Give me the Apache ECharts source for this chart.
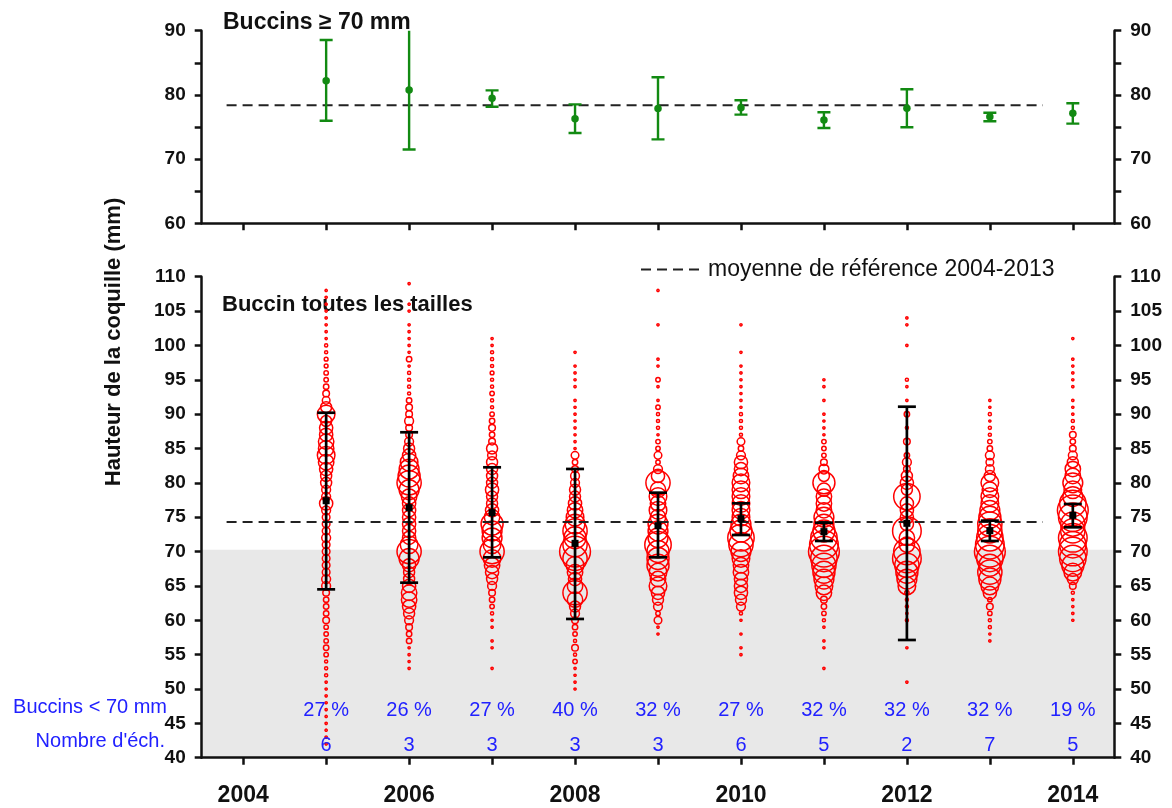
<!DOCTYPE html>
<html>
<head>
<meta charset="utf-8">
<script src="https://cdn.jsdelivr.net/npm/echarts@6/dist/echarts.min.js"></script>
<style>
html,body{margin:0;padding:0;background:#fff;}
#chart{width:1172px;height:808px;}
</style>
</head>
<body>
<div id="chart"></div>
<script>
// ---------- DATA ----------
const years = [2005, 2006, 2007, 2008, 2009, 2010, 2011, 2012, 2013, 2014];
const yearTicks = [2004, 2005, 2006, 2007, 2008, 2009, 2010, 2011, 2012, 2013, 2014];
const yearLabels = [2004, 2006, 2008, 2010, 2012, 2014];

// Top panel: Buccins >= 70 mm (mean, lower, upper)
const bigMean = [82.2, 80.76, 79.47, 76.3, 77.9, 78.0, 76.09, 77.91, 76.6, 77.13];
const bigLow  = [75.98, 71.5, 78.16, 74.07, 73.08, 76.92, 74.84, 74.95, 75.89, 75.52];
const bigHigh = [88.55, 91.0, 80.7, 78.53, 82.74, 79.16, 77.29, 80.87, 77.23, 78.69];
const bigRef = 78.4;

// Bottom panel: all sizes (mean, lower, upper)
const allMean = [77.4, 76.38, 75.66, 71.2, 73.77, 74.79, 72.9, 74.11, 73.04, 75.27];
const allLow  = [64.5, 65.47, 69.16, 60.19, 69.16, 72.41, 71.54, 57.13, 71.54, 73.53];
const allHigh = [90.2, 87.36, 82.26, 82.02, 78.57, 77.02, 74.2, 91.08, 74.5, 76.92];
const allRef = 74.3;
const refStart = 2003.8;
const refEnd = 2013.64;

const smallPct = [27, 26, 27, 40, 32, 27, 32, 32, 32, 19];
const nSamples = [6, 3, 3, 3, 3, 6, 5, 2, 7, 5];
const threshold = 70.25;

// Size-frequency (number of shells per mm class), first class = bubbleStart
const bubbleStart = [42, 53, 53, 50, 58, 55, 53, 51, 57, 60];
const n2005 = [1,1,1,1,1,1,1,1,1,1, 2,2,2,4,6,4,4,4,9,6, 6,6,9,16,16,12,12,12,12,12, 16,12,12,12,16,36,16,16,25,25, 36,49,64,49,49,36,36,25,64,25, 12,9,6,4,4,3,3,2,2,1, 1,1,1,1,1,1,1];
const n2006 = [1,1,1,1,6,6,9,16,25,36, 49,49,36,25,25,36,81,121,64,36, 36,36,36,36,36,49,81,121,100,81, 64,36,25,16,9,9,16,9,9,6, 2,2,2,2,1,6,1,1,1,1, 1,0,1,1,0,0,1];
const n2007 = [1,0,0,1,1,0,1,1,2,4, 6,9,16,25,36,49,64,121,64,81, 81,100,49,36,25,25,36,25,25,25, 25,16,25,9,6,9,6,4,2,2, 4,2,2,3,2,2,2,1,1];
const n2008 = [1,1,1,1,4,2,9,2,4,6, 9,16,25,49,121,49,36,49,64,121, 196,121,100,121,81,64,49,36,25,25, 16,16,9,6,12,1,1,1,1,1, 1,1,1,0,1,1,1,1,0,1];
const n2009 = [1,1,12,4,16,25,36,64,49,64, 100,100,100,144,81,81,81,49,64,49, 64,49,121,36,16,4,12,4,4,1, 2,2,2,4,1,0,1,4,0,1, 1,0,0,0,0,1,0,0,0,0, 1];
const n2010 = [1,1,0,1,0,1,2,16,25,36, 36,36,49,49,64,81,121,144,100,81, 64,64,64,64,64,64,49,36,36,16, 6,12,2,2,2,2,1,1,1,1, 1,1,1,0,1,0,0,0,1];
const n2011 = [1,0,0,1,1,0,1,2,4,6, 9,49,64,81,100,121,144,196,169,144, 100,81,81,49,49,49,36,100,25,20, 9,4,4,4,1,1,1,1,0,1, 0,1,1];
const n2012 = [1,0,0,0,0,1,0,0,0,2, 1,2,2,4,64,81,100,121,169,144, 49,49,169,36,36,36,36,144,25,36, 25,9,16,6,0,9,0,2,0,6, 0,1,0,1,2,0,0,0,0,1, 0,0,1,1];
const n2013 = [1,1,2,2,4,9,4,36,64,100, 121,100,144,196,169,144,121,121,100,81, 64,64,49,64,25,16,12,16,6,4, 2,2,1,2,1,1];
const n2014 = [1,1,1,1,2,9,25,64,100,144, 169,144,169,121,121,169,196,144,81,64, 81,49,49,25,16,9,6,9,2,2, 1,1,1,0,1,1,1,1,1,0, 0,1];
const bubbleCounts = [n2005, n2006, n2007, n2008, n2009, n2010, n2011, n2012, n2013, n2014];

// ---------- BUILD ----------
const FONT = "'Liberation Sans', Arial, sans-serif";
const RED = '#ff0000';
const GREEN = '#128a12';
const BLUE = '#2121ff';
const LEGEND_NAME = 'moyenne de référence 2004-2013';

const bubbles = [];
years.forEach((y, i) => {
  bubbleCounts[i].forEach((n, k) => {
    if (n > 0) bubbles.push([y, bubbleStart[i] + k, n]);
  });
});
const bigData = years.map((y, i) => [y, bigMean[i], bigLow[i], bigHigh[i]]);
const allData = years.map((y, i) => [y, allMean[i], allLow[i], allHigh[i]]);
const labelData = years.map((y, i) => [y, smallPct[i], nSamples[i]]);

function errRender(color, capHalf, lw, marker, msize) {
  return function (params, api) {
    const x = api.value(0);
    const pm = api.coord([x, api.value(1)]);
    const pl = api.coord([x, api.value(2)]);
    const ph = api.coord([x, api.value(3)]);
    const st = { stroke: color, lineWidth: lw };
    const children = [
      { type: 'line', shape: { x1: pl[0], y1: pl[1], x2: ph[0], y2: ph[1] }, style: st },
      { type: 'line', shape: { x1: pl[0] - capHalf, y1: pl[1], x2: pl[0] + capHalf, y2: pl[1] }, style: st },
      { type: 'line', shape: { x1: ph[0] - capHalf, y1: ph[1], x2: ph[0] + capHalf, y2: ph[1] }, style: st }
    ];
    if (marker === 'circle') {
      children.push({ type: 'circle', shape: { cx: pm[0], cy: pm[1], r: msize / 2 }, style: { fill: color } });
    } else {
      children.push({ type: 'rect', shape: { x: pm[0] - msize / 2, y: pm[1] - msize / 2, width: msize, height: msize }, style: { fill: color } });
    }
    return { type: 'group', children };
  };
}

function xAxisCfg(gridIndex, showLabels) {
  return {
    type: 'value', gridIndex, min: 2003.5, max: 2014.5, z: 5,
    axisLine: { show: true, onZero: false, lineStyle: { color: '#111', width: 2.5 } },
    axisTick: { show: true, customValues: yearTicks, length: 7, lineStyle: { color: '#111', width: 2.5 } },
    axisLabel: {
      show: showLabels, customValues: yearLabels, margin: 26,
      formatter: v => String(v), color: '#111', fontSize: 23, fontWeight: 'bold', fontFamily: FONT
    },
    splitLine: { show: false }
  };
}
function yAxisCfg(gridIndex, pos, min, max, every) {
  return {
    type: 'value', gridIndex, position: pos, min, max, interval: 5, z: 5,
    axisLine: { show: true, onZero: false, lineStyle: { color: '#111', width: 2.5 } },
    axisTick: { show: true, length: 7, lineStyle: { color: '#111', width: 2.5 } },
    axisLabel: {
      margin: 16, color: '#111', fontSize: 19, fontWeight: 'bold', fontFamily: FONT,
      formatter: v => (v % every === 0 ? String(v) : '')
    },
    splitLine: { show: false }
  };
}

const chart = echarts.init(document.getElementById('chart'), null, { renderer: 'canvas' });
chart.setOption({
  animation: false,
  backgroundColor: '#ffffff',
  textStyle: { fontFamily: FONT },
  grid: [
    { left: 201.7, right: 57.7, top: 30.7, height: 192.6 },
    { left: 201.7, right: 57.7, top: 276.7, height: 481 }
  ],
  xAxis: [xAxisCfg(0, false), xAxisCfg(1, true)],
  yAxis: [
    yAxisCfg(0, 'left', 60, 90, 10),
    yAxisCfg(0, 'right', 60, 90, 10),
    yAxisCfg(1, 'left', 40, 110, 5),
    yAxisCfg(1, 'right', 40, 110, 5)
  ],
  legend: {
    left: 635, top: 253,
    itemWidth: 62, itemHeight: 14, itemGap: 10,
    data: [{ name: LEGEND_NAME }],
    itemStyle: { opacity: 0 },
    lineStyle: { color: '#222', width: 2, type: [10, 6] },
    textStyle: { fontSize: 23, color: '#111', fontFamily: FONT }
  },
  graphic: [
    { type: 'text', left: 223, top: 11, style: { text: 'Buccins ≥ 70 mm', font: 'bold 23px ' + FONT, fill: '#111' } },
    { type: 'text', left: 222, top: 294, style: { text: 'Buccin toutes les tailles', font: 'bold 22px ' + FONT, fill: '#111' } },
    { type: 'text', x: 114, y: 342, rotation: Math.PI / 2,
      style: { text: 'Hauteur de la coquille (mm)', font: 'bold 22px ' + FONT, fill: '#111', align: 'center', verticalAlign: 'middle' } },
    { type: 'text', x: 167, y: 707, style: { text: 'Buccins < 70 mm', font: '20px ' + FONT, fill: BLUE, align: 'right', verticalAlign: 'middle' } },
    { type: 'text', x: 165, y: 741, style: { text: "Nombre d'éch.", font: '20px ' + FONT, fill: BLUE, align: 'right', verticalAlign: 'middle' } }
  ],
  series: [
    // grey zone (< 70 mm)
    {
      type: 'custom', xAxisIndex: 1, yAxisIndex: 2, z: 1, silent: true,
      data: [[threshold]],
      renderItem: function (params, api) {
        const p1 = api.coord([2003.5, api.value(0)]);
        const p2 = api.coord([2014.5, 40]);
        return { type: 'rect', shape: { x: p1[0], y: p1[1], width: p2[0] - p1[0], height: p2[1] - p1[1] }, style: { fill: '#e8e8e8' } };
      }
    },
    // top error bars
    {
      type: 'custom', name: 'big', xAxisIndex: 0, yAxisIndex: 0, z: 4, clip: true,
      encode: { x: 0, y: [1, 2, 3] },
      data: bigData,
      renderItem: errRender(GREEN, 6.5, 2.4, 'circle', 7.5)
    },
    {
      type: 'line', name: LEGEND_NAME, xAxisIndex: 0, yAxisIndex: 0, z: 3,
      symbol: 'none', showSymbol: false, data: [[refStart, bigRef], [refEnd, bigRef]],
      lineStyle: { color: '#222', width: 2, type: [10, 6] }
    },
    // bubbles
    {
      type: 'scatter', xAxisIndex: 1, yAxisIndex: 2, z: 2, large: false, progressive: 0,
      data: bubbles,
      symbol: 'circle',
      symbolSize: v => 2.2 * Math.sqrt(v[2]),
      itemStyle: { color: 'rgba(255,255,255,0)', borderColor: RED, borderWidth: 1.5, opacity: 1 },
      emphasis: { disabled: true }
    },
    {
      type: 'line', name: LEGEND_NAME, xAxisIndex: 1, yAxisIndex: 2, z: 3,
      symbol: 'none', showSymbol: false, data: [[refStart, allRef], [refEnd, allRef]],
      lineStyle: { color: '#222', width: 2, type: [10, 6] }
    },
    {
      type: 'custom', xAxisIndex: 1, yAxisIndex: 2, z: 4,
      encode: { x: 0, y: [1, 2, 3] },
      data: allData,
      renderItem: errRender('#000', 9, 2.7, 'rect', 7)
    },
    // labels
    {
      type: 'custom', xAxisIndex: 1, yAxisIndex: 2, z: 5, silent: true,
      data: labelData,
      renderItem: function (params, api) {
        const x = api.value(0);
        const p1 = api.coord([x, 46.8]);
        const p2 = api.coord([x, 41.8]);
        return {
          type: 'group',
          children: [
            { type: 'text', x: p1[0], y: p1[1], style: { text: api.value(1) + ' %', font: '20px ' + FONT, fill: BLUE, align: 'center', verticalAlign: 'middle' } },
            { type: 'text', x: p2[0], y: p2[1], style: { text: String(api.value(2)), font: '20px ' + FONT, fill: BLUE, align: 'center', verticalAlign: 'middle' } }
          ]
        };
      }
    }
  ]
});
</script>
</body>
</html>
